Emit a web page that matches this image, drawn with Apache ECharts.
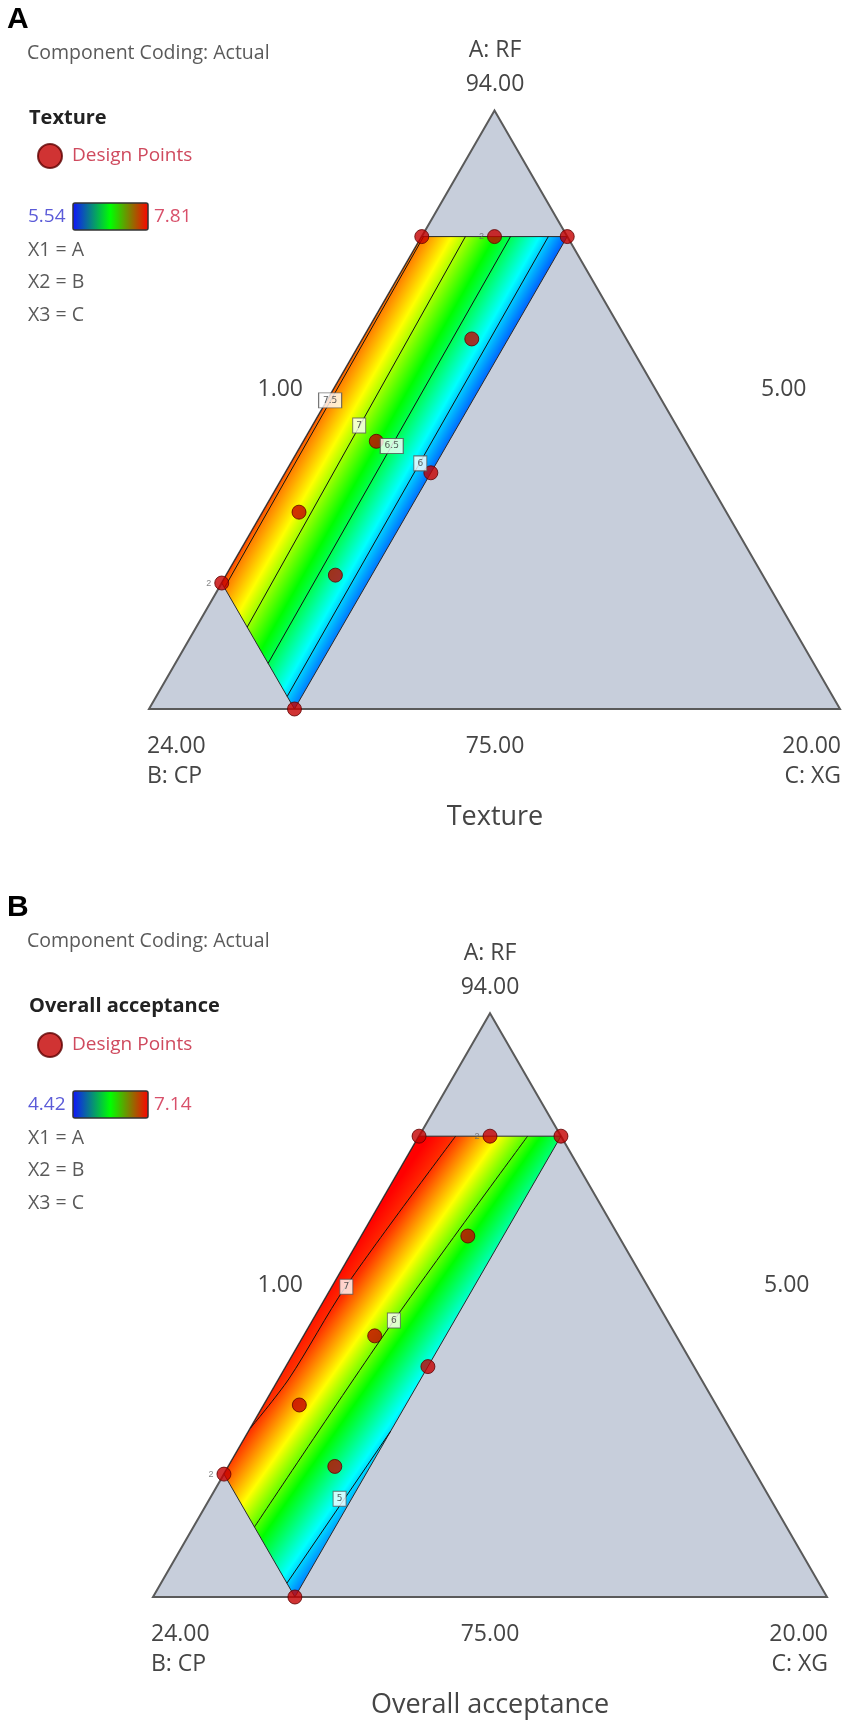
<!DOCTYPE html>
<html>
<head>
<meta charset="utf-8">
<script src="https://cdn.jsdelivr.net/npm/echarts@6/dist/echarts.min.js"></script>
<style>
html, body { margin: 0; padding: 0; background: #fff; }
#chart { width: 850px; height: 1729px; }
</style>
</head>
<body>
<div id="chart"></div>
<script>
// L-pseudo bounds of the mixture (A: RF 75-94, C: XG 1-20, B: CP = 100 - A - C)
const lowerA = 75, lowerC = 1, pseudoRange = 19;

const simplexA = [94, 75, 75];
const simplexC = [1, 1, 20];

// constrained design region: A <= 90, B <= 20, C <= 5
const regionA = [90, 90, 75, 79];
const regionC = [1, 5, 5, 1];

// design points
const designA = [90, 90, 90, 86.75, 83.5, 82.5, 81.25, 79.25, 79, 75];
const designC = [1, 3, 5, 4, 3, 5, 2, 4, 1, 5];
const designReps = [1, 2, 1, 1, 1, 1, 1, 1, 2, 1];

// Texture contours
const texRange = [5.54, 7.81];
const texLevels = [7.5, 7, 6.5, 6];
const texLinesA = [[90, 78.85], [90, 77.6], [90, 76.45], [90, 75.4]];
const texLinesC = [[1.05, 1.15], [2.2, 2.4], [3.44, 3.55], [4.48, 4.6]];
const texLabelA = [84.8, 84.0, 83.35, 82.8];
const texLabelC = [1.08, 2.28, 3.5, 4.56];
const texEnds = [7.65, 5.75];

// Overall acceptance contours
const accRange = [4.42, 7.14];
const accLevels = [7, 6, 5];
const accLinesA = [[90, 85.1, 82.1, 80.5], [90, 84.0, 77.28], [75.45, 80.4]];
const accLinesC = [[2.03, 1.38, 1.28, 1.0], [4.06, 3.29, 2.72], [4.55, 5.0]];
const accLabelA = [85.1, 84.0, 78.2];
const accLabelC = [1.4, 3.29, 4.66];
const accEnds = [7.2, 4.75];

const H = Math.sqrt(3) / 2;
function toXY(A, C) {
  const a = (A - lowerA) / pseudoRange, c = (C - lowerC) / pseudoRange;
  return [c + a / 2, a * H];
}

const rainbow = [[0, [0, 0, 255]], [0.25, [0, 255, 255]], [0.5, [0, 255, 0]], [0.72, [255, 255, 0]], [1, [255, 0, 0]]];
function colorAt(t) {
  t = Math.max(0, Math.min(1, t));
  for (let i = 1; i < rainbow.length; i++) {
    if (t <= rainbow[i][0]) {
      const [t0, c0] = rainbow[i - 1], [t1, c1] = rainbow[i];
      const f = (t - t0) / (t1 - t0);
      return 'rgb(' + c0.map((v, k) => Math.round(v + (c1[k] - v) * f)).join(',') + ')';
    }
  }
  return 'rgb(255,0,0)';
}

const panels = [
  {
    grid: { left: 149, top: 110.6, width: 691, height: 598.4 },
    range: texRange, levels: texLevels, linesA: texLinesA, linesC: texLinesC,
    labelA: texLabelA, labelC: texLabelC, ends: texEnds
  },
  {
    grid: { left: 153, top: 1013.3, width: 674, height: 583.7 },
    range: accRange, levels: accLevels, linesA: accLinesA, linesC: accLinesC,
    labelA: accLabelA, labelC: accLabelC, ends: accEnds
  }
];

function simplexSeries(gi) {
  return {
    type: 'custom', xAxisIndex: gi, yAxisIndex: gi, silent: true, z: 1,
    data: [[0, 0]],
    renderItem: function (params, api) {
      return {
        type: 'polygon',
        shape: { points: simplexA.map((A, i) => api.coord(toXY(A, simplexC[i]))) },
        style: { fill: '#c7cedb', stroke: '#5a5a5a', lineWidth: 2 }
      };
    }
  };
}

function regionSeries(gi, p) {
  return {
    type: 'custom', xAxisIndex: gi, yAxisIndex: gi, silent: true, z: 2,
    data: [[0, 0]],
    renderItem: function (params, api) {
      const pts = regionA.map((A, i) => api.coord(toXY(A, regionC[i])));
      const px = p.linesA.map((la, k) => la.map((A, j) => api.coord(toXY(A, p.linesC[k][j]))));
      // mean contour direction -> gradient normal
      let dx = 0, dy = 0;
      px.forEach(line => {
        let vx = line[line.length - 1][0] - line[0][0], vy = line[line.length - 1][1] - line[0][1];
        if (vy < 0) { vx = -vx; vy = -vy; }
        const l = Math.hypot(vx, vy);
        dx += vx / l; dy += vy / l;
      });
      let nx = dy, ny = -dx;
      const nl = Math.hypot(nx, ny); nx /= nl; ny /= nl;
      const mids = px.map(line => [
        line.reduce((s, q) => s + q[0], 0) / line.length,
        line.reduce((s, q) => s + q[1], 0) / line.length
      ]);
      let proj = q => q[0] * nx + q[1] * ny;
      if (proj(mids[0]) > proj(mids[mids.length - 1])) { nx = -nx; ny = -ny; }
      proj = q => q[0] * nx + q[1] * ny;
      const pr = pts.map(proj);
      const lo = Math.min(...pr), hi = Math.max(...pr);
      const start = pts[pr.indexOf(lo)];
      const norm = v => (v - p.range[0]) / (p.range[1] - p.range[0]);
      const vs = [[0, p.ends[0]]];
      mids.forEach((m, k) => vs.push([(proj(m) - lo) / (hi - lo), p.levels[k]]));
      vs.push([1, p.ends[1]]);
      const stops = [];
      for (let i = 0; i < vs.length; i++) {
        stops.push({ offset: vs[i][0], color: colorAt(norm(vs[i][1])) });
        if (i < vs.length - 1) {
          const t1 = norm(vs[i][1]), t2 = norm(vs[i + 1][1]);
          rainbow.forEach(r => {
            const kt = r[0];
            if ((kt < t1 && kt > t2) || (kt > t1 && kt < t2)) {
              stops.push({ offset: vs[i][0] + (kt - t1) / (t2 - t1) * (vs[i + 1][0] - vs[i][0]), color: colorAt(kt) });
            }
          });
        }
      }
      stops.sort((a, b) => a.offset - b.offset);
      stops.forEach(s => { s.offset = Math.max(0, Math.min(1, s.offset)); });
      const fill = new echarts.graphic.LinearGradient(
        start[0], start[1], start[0] + nx * (hi - lo), start[1] + ny * (hi - lo), stops, true);
      return {
        type: 'polygon',
        shape: { points: pts },
        style: { fill: fill, stroke: '#2a2a2a', lineWidth: 1 }
      };
    }
  };
}

function contourSeries(gi, p) {
  return p.linesA.map((la, k) => ({
    type: 'line', xAxisIndex: gi, yAxisIndex: gi, silent: true, z: 3,
    symbol: 'none', smooth: la.length > 2 ? 0.3 : false,
    lineStyle: { color: '#111', width: 1 },
    data: la.map((A, j) => toXY(A, p.linesC[k][j]))
  }));
}

function labelSeries(gi, p) {
  return {
    type: 'scatter', xAxisIndex: gi, yAxisIndex: gi, silent: true, z: 6,
    symbol: 'rect',
    data: p.levels.map((lv, k) => ({
      value: toXY(p.labelA[k], p.labelC[k]),
      symbolSize: [String(lv).length > 1 ? 23 : 13, 15],
      label: { show: true, formatter: String(lv) }
    })),
    itemStyle: { color: '#fff', borderColor: '#555', borderWidth: 1 },
    label: { position: 'inside', fontSize: 9, color: '#333', fontFamily: 'DejaVu Sans' }
  };
}

function pointSeries(gi) {
  return {
    name: 'Design Points', type: 'scatter', xAxisIndex: gi, yAxisIndex: gi, z: 5,
    symbol: 'circle', symbolSize: 14,
    itemStyle: { color: '#c40000', borderColor: '#5e0000', borderWidth: 1 },
    data: designA.map((A, i) => ({
      value: toXY(A, designC[i]),
      label: {
        show: designReps[i] > 1, formatter: String(designReps[i]), position: 'left',
        distance: 3, fontSize: 9, color: '#666'
      }
    }))
  };
}

const FONT = '"Open Sans", "Noto Sans", sans-serif';
function txt(x, y, text, o) {
  return {
    type: 'text', x: x, y: y, silent: true,
    style: Object.assign({
      text: text, fill: '#454545', fontSize: 23, fontFamily: FONT,
      align: 'left', verticalAlign: 'middle'
    }, o || {})
  };
}

function panelGraphics(letter, resp, minV, maxV, dy, tri) {
  const g = [];
  g.push(txt(7, 20 + dy, letter, { fontSize: 30, fontWeight: 'bold', fontFamily: '"Liberation Sans", Arial, sans-serif', fill: '#000' }));
  g.push(txt(27, 53 + dy, 'Component Coding: Actual', { fontSize: 19.5, fill: '#5a5a5a' }));
  g.push(txt(29, 118 + dy, resp, { fontSize: 20, fontWeight: 'bold', fill: '#222' }));
  g.push(txt(28, 217 + dy, minV, { fontSize: 19, fill: '#5b5bd8' }));
  g.push({
    type: 'rect', silent: true,
    shape: { x: 73, y: 203 + dy, width: 75, height: 27, r: 2 },
    style: {
      fill: new echarts.graphic.LinearGradient(0, 0, 1, 0, [
        { offset: 0, color: '#1010ff' }, { offset: 0.5, color: '#00ff00' }, { offset: 1, color: '#ff0000' }
      ]),
      stroke: '#333', lineWidth: 1.5
    }
  });
  g.push(txt(154, 217 + dy, maxV, { fontSize: 19, fill: '#d8506a' }));
  ['X1 = A', 'X2 = B', 'X3 = C'].forEach((s, i) => g.push(txt(28, 250 + dy + i * 32.5, s, { fontSize: 19.5, fill: '#5a5a5a' })));
  // vertex / edge labels
  g.push(txt(tri.cx, tri.top - 60, 'A: RF', { align: 'center' }));
  g.push(txt(tri.cx, tri.top - 26, '94.00', { align: 'center' }));
  g.push(txt(303, tri.mid, '1.00', { align: 'right' }));
  g.push(txt(tri.rightLbl, tri.mid, '5.00'));
  g.push(txt(tri.left - 2, tri.base + 37, '24.00'));
  g.push(txt(tri.left - 2, tri.base + 67, 'B: CP'));
  g.push(txt(tri.cx, tri.base + 37, '75.00', { align: 'center' }));
  g.push(txt(tri.right + 1, tri.base + 37, '20.00', { align: 'right' }));
  g.push(txt(tri.right + 1, tri.base + 67, 'C: XG', { align: 'right' }));
  g.push(txt(tri.cx, tri.base + 108, resp, { align: 'center', fontSize: 27 }));
  return g;
}

const chart = echarts.init(document.getElementById('chart'));
const series = [];
panels.forEach((p, gi) => {
  series.push(simplexSeries(gi));
  series.push(regionSeries(gi, p));
  contourSeries(gi, p).forEach(s => series.push(s));
  series.push(pointSeries(gi));
  series.push(labelSeries(gi, p));
});

const legendBase = {
  data: ['Design Points'], left: 32, icon: 'circle', itemWidth: 26, itemHeight: 24,
  selectedMode: false, textStyle: { color: '#cf4a5e', fontSize: 19, fontFamily: FONT, padding: [0, 0, 0, 4] }
};

chart.setOption({
  animation: false,
  backgroundColor: '#fff',
  grid: panels.map(p => p.grid),
  xAxis: panels.map((p, gi) => ({ gridIndex: gi, type: 'value', min: 0, max: 1, show: false })),
  yAxis: panels.map((p, gi) => ({ gridIndex: gi, type: 'value', min: 0, max: H, show: false })),
  legend: [
    Object.assign({}, legendBase, { top: 138 }),
    Object.assign({}, legendBase, { top: 1027 })
  ],
  graphic: panelGraphics('A', 'Texture', '5.54', '7.81', 0,
      { cx: 495, top: 110, left: 149, right: 840, base: 709, mid: 389, rightLbl: 761 })
    .concat(panelGraphics('B', 'Overall acceptance', '4.42', '7.14', 888,
      { cx: 490, top: 1013, left: 153, right: 827, base: 1597, mid: 1285, rightLbl: 764 })),
  series: series
});
</script>
</body>
</html>
